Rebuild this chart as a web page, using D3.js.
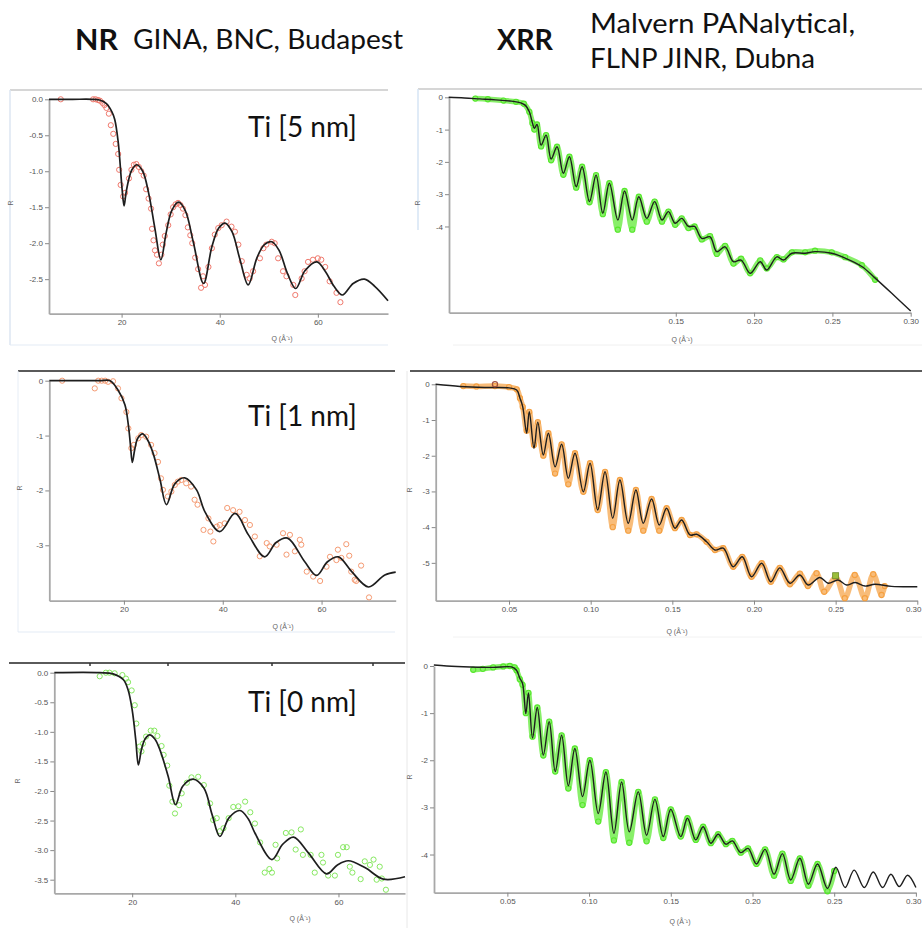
<!DOCTYPE html>
<html><head><meta charset="utf-8">
<script src="https://cdn.jsdelivr.net/npm/d3@7"></script>
<style>body{margin:0;background:#fff}svg{display:block}</style>
</head><body>
<svg id="c" width="922" height="928"></svg>
<script>
// ---------------- DATA ----------------
// NR, Ti 5 nm
const nr5Fit = [[5.2,0],[10,0],[14,0],[15.5,-0.01],[16.9,-0.06],[18,-0.17],[18.6,-0.28],[19.3,-0.59],[19.7,-0.9],[20.1,-1.25],[20.5,-1.48],[20.9,-1.3],[21.5,-1.1],[22.1,-0.98],[23.1,-0.91],[24.3,-1.0],[25.5,-1.3],[26.8,-1.8],[28.0,-2.23],[29.1,-1.85],[30.2,-1.55],[31.6,-1.43],[33,-1.55],[34.6,-1.98],[36.7,-2.56],[38.4,-2.05],[39.8,-1.79],[41.1,-1.72],[42.5,-1.84],[44.1,-2.22],[45.8,-2.58],[47.6,-2.2],[49.1,-2.02],[50.6,-1.98],[52.1,-2.1],[53.8,-2.42],[55.5,-2.63],[57.4,-2.38],[59.8,-2.26],[61.6,-2.4],[63.3,-2.6],[65.0,-2.72],[67.2,-2.56],[69.5,-2.50],[71.6,-2.6],[74.3,-2.80]];
const nr5Data = [[7.6,0],[14.2,0],[14.7,0],[15.2,-0.01],[15.6,-0.02],[16.1,-0.05],[16.5,-0.08],[16.9,-0.12],[17.4,-0.2],[17.8,-0.36],[18.3,-0.48],[18.8,-0.62],[19.3,-0.76],[19.5,-0.98],[19.8,-1.19],[20.3,-1.35],[20.7,-1.3],[21.5,-1.1],[22,-0.98],[22.5,-0.91],[23,-0.9],[23.5,-0.94],[24,-1.0],[24.5,-1.06],[25,-1.25],[25.5,-1.38],[26,-1.52],[26.2,-1.8],[26.5,-1.96],[26.8,-2.1],[27.2,-2.16],[27.6,-2.28],[28.1,-2.16],[28.4,-2.02],[28.8,-1.9],[29.5,-1.75],[30,-1.6],[30.5,-1.5],[31,-1.46],[31.5,-1.44],[32,-1.47],[32.5,-1.52],[33,-1.61],[33.5,-1.78],[34,-1.89],[34.4,-2.0],[35,-2.2],[35.6,-2.36],[36.2,-2.62],[36.6,-2.46],[37,-2.58],[37.7,-2.33],[38.4,-2.07],[39.0,-1.88],[39.7,-1.79],[40.4,-1.75],[41.4,-1.70],[42.4,-1.77],[43.1,-1.84],[43.8,-2.02],[44.5,-2.25],[45.5,-2.44],[46.1,-2.49],[46.8,-2.39],[48.2,-2.21],[48.9,-2.07],[49.5,-2.02],[50.6,-1.98],[51.2,-2.0],[51.9,-2.21],[52.9,-2.39],[53.6,-2.46],[55.0,-2.58],[55.4,-2.72],[56.7,-2.49],[57.3,-2.39],[58.0,-2.26],[59.0,-2.23],[60.0,-2.21],[60.7,-2.23],[61.5,-2.33],[62.4,-2.53],[63.8,-2.69],[64.6,-2.82]];

// NR, Ti 1 nm
const nr1Fit = [[4.9,0],[15,0],[17.2,0],[18.8,-0.17],[20.2,-0.44],[20.9,-0.81],[21.3,-1.15],[21.7,-1.49],[22.2,-1.25],[22.8,-1.05],[23.8,-0.97],[24.8,-1.08],[25.9,-1.32],[27.3,-1.8],[28.6,-2.26],[30.3,-1.88],[32.3,-1.77],[34.7,-1.99],[36.4,-2.39],[39.4,-2.75],[42.5,-2.42],[45.2,-2.81],[48.5,-3.21],[50.8,-2.95],[53.1,-2.87],[56.6,-3.30],[59.0,-3.55],[61.2,-3.3],[63.4,-3.21],[66.1,-3.48],[69.5,-3.76],[72.8,-3.54],[75,-3.49]];
const nr1Data = [[7.5,0],[14.1,-0.14],[14.8,0],[15.5,0],[16.2,0],[16.8,-0.02],[17.8,-0.01],[18.8,-0.14],[19.5,-0.32],[20.5,-0.57],[20.9,-0.87],[21.5,-1.23],[22,-1.17],[22.9,-1.05],[23.5,-0.99],[24.5,-1.02],[25.5,-1.17],[26.2,-1.32],[26.9,-1.48],[27.5,-1.78],[27.9,-1.99],[28.9,-2.11],[29.6,-2.02],[30.3,-1.9],[30.9,-1.84],[31.6,-1.81],[32.6,-1.87],[33.6,-1.93],[34.3,-2.17],[34.9,-2.26],[36.1,-2.72],[37.1,-2.51],[37.5,-2.75],[38.1,-2.93],[38.8,-2.66],[39.4,-2.63],[40.4,-2.6],[40.9,-2.32],[42.1,-2.36],[43.4,-2.39],[44.5,-2.54],[45.5,-2.63],[46.5,-2.84],[47.5,-3.2],[48.9,-2.96],[49.5,-3.02],[50.9,-2.99],[52.2,-2.78],[52.9,-3.17],[53.6,-2.81],[54.6,-3.11],[55.6,-2.9],[55.9,-2.99],[57.0,-3.48],[58.3,-3.57],[59.7,-3.65],[61.0,-3.39],[61.7,-3.21],[63.0,-3.27],[63.3,-3.08],[64.0,-3.23],[65.0,-2.98],[65.6,-3.19],[66.0,-3.48],[66.7,-3.63],[67.0,-3.65],[68.0,-3.37],[69.6,-3.95]];

// NR, Ti 0 nm
const nr0Fit = [[4.9,0],[13.7,0],[16.3,-0.02],[18.3,-0.12],[19.2,-0.29],[20,-0.63],[20.7,-1.14],[21.2,-1.56],[21.8,-1.3],[22.5,-1.12],[23.4,-1.05],[24.4,-1.12],[25.4,-1.31],[27,-1.76],[28.4,-2.23],[29.8,-1.92],[31.8,-1.80],[33.9,-1.95],[35.5,-2.4],[37.0,-2.77],[38.8,-2.45],[40.9,-2.33],[42.5,-2.47],[43.8,-2.71],[47.1,-3.16],[49.2,-2.9],[51.3,-2.78],[54.2,-3.05],[57.7,-3.40],[59.8,-3.25],[61.9,-3.18],[65.2,-3.30],[68.7,-3.49],[72.9,-3.45]];
const nr0Data = [[13.7,-0.06],[14.9,0],[15.6,0],[16.6,-0.01],[18.1,-0.04],[18.8,-0.1],[19.2,-0.16],[19.9,-0.3],[20.5,-0.55],[20.8,-0.86],[21.4,-1.25],[21.8,-1.33],[22.1,-1.2],[22.7,-1.08],[23.6,-0.98],[24.3,-0.98],[24.9,-1.07],[25.7,-1.24],[26.1,-1.39],[26.8,-1.57],[27.2,-1.91],[27.8,-2.18],[28.3,-2.38],[29.1,-2.24],[29.6,-2.04],[30.6,-1.86],[31.5,-1.77],[32.8,-1.76],[33.9,-1.9],[35.1,-2.21],[35.7,-2.49],[36.4,-2.46],[37.0,-2.68],[37.7,-2.63],[38.7,-2.46],[39.6,-2.27],[40.6,-2.26],[41.9,-2.18],[42.9,-2.36],[43.8,-2.55],[44.8,-2.87],[45.7,-3.38],[46.6,-3.32],[47.1,-3.38],[47.8,-2.91],[48.1,-3.14],[49.8,-2.71],[50.9,-2.70],[51.7,-2.99],[52.7,-2.65],[53.1,-3.08],[54.6,-3.08],[55.4,-3.38],[56.7,-3.08],[57.0,-3.21],[58.0,-3.43],[59.3,-3.43],[59.9,-3.08],[60.9,-2.95],[61.6,-2.95],[62.2,-3.28],[62.7,-3.38],[64.3,-3.49],[65.1,-3.19],[66.1,-3.25],[66.8,-3.16],[67.4,-3.50],[68.0,-3.28],[68.4,-3.48],[69.2,-3.67]];

// XRR, Ti 5 nm
const xrr5Fit = [[0.005,0],[0.015,-0.02],[0.025,-0.05],[0.035,-0.08],[0.045,-0.12],[0.051,-0.17],[0.054,-0.25],[0.0565,-0.45],[0.0585,-0.8],[0.0597,-0.96],[0.0614,-0.84],[0.064,-1.48],[0.0672,-1.17],[0.0704,-1.91],[0.0742,-1.53],[0.0782,-2.35],[0.0821,-1.84],[0.0864,-2.77],[0.0902,-2.15],[0.0949,-3.23],[0.0991,-2.41],[0.1034,-3.59],[0.1076,-2.66],[0.113,-3.8],[0.1173,-2.9],[0.1222,-3.8],[0.1264,-3.08],[0.1315,-3.75],[0.1365,-3.23],[0.1412,-3.8],[0.1453,-3.54],[0.1496,-3.9],[0.1538,-3.75],[0.1581,-4.0],[0.162,-4.0],[0.1666,-4.37],[0.1719,-4.32],[0.1762,-4.78],[0.1815,-4.63],[0.1868,-5.09],[0.1917,-5.04],[0.1975,-5.45],[0.2039,-5.09],[0.2081,-5.35],[0.2145,-4.94],[0.2188,-5.04],[0.2241,-4.83],[0.2326,-4.83],[0.2389,-4.78],[0.2496,-4.83],[0.2581,-4.98],[0.2688,-5.24],[0.2773,-5.6],[0.2879,-6.07],[0.3,-6.62]];
const xrr5Data = [[0.022,-0.04],[0.03,-0.06],[0.04,-0.1],[0.048,-0.14],[0.053,-0.2],[0.0565,-0.45],[0.0585,-0.8],[0.0597,-1.0],[0.0614,-0.84],[0.064,-1.52],[0.0672,-1.17],[0.0704,-1.95],[0.0742,-1.53],[0.0782,-2.4],[0.0821,-1.84],[0.0864,-2.8],[0.0902,-2.15],[0.0949,-3.25],[0.0991,-2.41],[0.1034,-3.62],[0.1076,-2.66],[0.113,-4.1],[0.1173,-2.9],[0.1222,-4.1],[0.1264,-3.08],[0.1315,-3.85],[0.1365,-3.23],[0.1412,-3.85],[0.1453,-3.54],[0.1496,-3.95],[0.1538,-3.75],[0.1581,-4.05],[0.162,-4.0],[0.1666,-4.4],[0.1719,-4.3],[0.1762,-4.85],[0.1815,-4.6],[0.1868,-5.15],[0.1917,-5.0],[0.1975,-5.45],[0.2039,-5.05],[0.2081,-5.3],[0.2145,-4.95],[0.2188,-5.02],[0.2241,-4.8],[0.2326,-4.8],[0.2389,-4.75],[0.2496,-4.8],[0.2581,-4.95],[0.2688,-5.2],[0.2773,-5.65]];

// XRR, Ti 1 nm
const xrr1Fit = [[0.005,0],[0.02,-0.06],[0.035,-0.09],[0.05,-0.1],[0.0547,-0.16],[0.0567,-0.39],[0.0584,-0.63],[0.0608,-1.37],[0.0624,-0.77],[0.0653,-1.79],[0.0676,-1.06],[0.071,-1.98],[0.0741,-1.37],[0.0782,-2.31],[0.0822,-1.68],[0.0863,-2.63],[0.0904,-1.93],[0.0955,-3.01],[0.0996,-2.21],[0.1043,-3.52],[0.1088,-2.45],[0.1135,-3.75],[0.1179,-2.68],[0.123,-3.89],[0.1277,-2.96],[0.1322,-3.89],[0.1373,-3.21],[0.142,-3.94],[0.1465,-3.47],[0.1516,-4.03],[0.1557,-3.8],[0.1608,-4.22],[0.1649,-4.2],[0.171,-4.41],[0.1761,-4.64],[0.1812,-4.59],[0.1873,-5.11],[0.1928,-4.83],[0.1985,-5.39],[0.2047,-5.01],[0.2103,-5.53],[0.2158,-5.14],[0.222,-5.57],[0.2281,-5.34],[0.2332,-5.62],[0.2403,-5.41],[0.2454,-5.57],[0.2515,-5.48],[0.2566,-5.62],[0.262,-5.55],[0.268,-5.65],[0.274,-5.6],[0.2842,-5.66],[0.3,-5.67]];
const xrr1Data = [[0.022,-0.05],[0.03,-0.06],[0.0414,-0.05],[0.05,-0.08],[0.0547,-0.14],[0.0567,-0.39],[0.0584,-0.63],[0.0608,-1.3],[0.0624,-0.77],[0.0653,-1.7],[0.0676,-1.06],[0.071,-2.0],[0.0741,-1.37],[0.0782,-2.5],[0.0822,-1.68],[0.0863,-2.8],[0.0904,-1.93],[0.0955,-3.01],[0.0996,-2.21],[0.1043,-3.52],[0.1088,-2.45],[0.1135,-4.0],[0.1179,-2.68],[0.123,-4.1],[0.1277,-2.96],[0.1322,-4.1],[0.1373,-3.21],[0.142,-4.1],[0.1465,-3.47],[0.1516,-4.03],[0.1557,-3.8],[0.1608,-4.22],[0.1649,-4.2],[0.171,-4.41],[0.1761,-4.64],[0.1812,-4.59],[0.1873,-5.11],[0.1928,-4.83],[0.1985,-5.39],[0.2047,-5.01],[0.2103,-5.53],[0.2158,-5.14],[0.222,-5.6],[0.2281,-5.3],[0.233,-5.65],[0.2383,-5.29],[0.243,-5.81],[0.2501,-5.41],[0.2556,-5.99],[0.2617,-5.34],[0.2679,-5.99],[0.273,-5.32],[0.2781,-5.9],[0.28,-5.65]];
const xrr1Marks = [[0.0414,0.0,"circle"],[0.25,-5.36,"square"]];

// XRR, Ti 0 nm
const xrr0Fit = [[0.005,0.02],[0.0129,0],[0.0272,-0.02],[0.0413,-0.03],[0.0525,-0.02],[0.0556,-0.09],[0.0576,-0.26],[0.0593,-0.37],[0.0613,-1.01],[0.0629,-0.57],[0.0654,-1.53],[0.0683,-0.88],[0.072,-1.89],[0.0756,-1.18],[0.0793,-2.24],[0.0832,-1.47],[0.0873,-2.54],[0.0913,-1.75],[0.096,-2.77],[0.1005,-2.0],[0.1056,-3.13],[0.1103,-2.25],[0.1152,-3.55],[0.1199,-2.46],[0.1246,-3.52],[0.1301,-2.67],[0.1352,-3.59],[0.1403,-2.83],[0.1454,-3.62],[0.15,-3.04],[0.1561,-3.62],[0.1602,-3.23],[0.1653,-3.69],[0.1698,-3.41],[0.1745,-3.76],[0.179,-3.57],[0.1837,-3.78],[0.1877,-3.71],[0.1928,-3.96],[0.1973,-3.87],[0.2024,-4.2],[0.2077,-3.89],[0.2132,-4.42],[0.2183,-3.98],[0.2234,-4.54],[0.229,-4.08],[0.2342,-4.63],[0.2398,-4.2],[0.2459,-4.72],[0.251,-4.27],[0.2567,-4.7],[0.2622,-4.33],[0.2684,-4.7],[0.2739,-4.37],[0.2796,-4.7],[0.2847,-4.42],[0.2898,-4.68],[0.2949,-4.44],[0.3,-4.7]];
const xrr0Data = [[0.0291,-0.08],[0.035,-0.06],[0.0413,-0.03],[0.0475,-0.01],[0.0515,0.0],[0.0545,-0.03],[0.0556,-0.09],[0.0576,-0.28],[0.0593,-0.4],[0.0613,-1.0],[0.0629,-0.57],[0.0654,-1.5],[0.0683,-0.88],[0.072,-1.9],[0.0756,-1.18],[0.0793,-2.24],[0.0832,-1.47],[0.0873,-2.6],[0.0913,-1.75],[0.096,-2.95],[0.1005,-2.0],[0.1056,-3.3],[0.1103,-2.25],[0.1152,-3.7],[0.1199,-2.46],[0.1246,-3.75],[0.1301,-2.67],[0.1352,-3.72],[0.1403,-2.83],[0.1454,-3.65],[0.15,-3.04],[0.1561,-3.62],[0.1602,-3.23],[0.1653,-3.69],[0.1698,-3.41],[0.1745,-3.76],[0.179,-3.57],[0.1837,-3.78],[0.1877,-3.71],[0.1928,-3.96],[0.1973,-3.87],[0.2024,-4.2],[0.2077,-3.89],[0.2132,-4.45],[0.2183,-3.98],[0.2234,-4.56],[0.229,-4.08],[0.2342,-4.66],[0.2398,-4.2],[0.2459,-4.78],[0.25,-4.35]];

// tick values
const nrTicksX = [20, 40, 60];
const nr5TicksY = [0, -0.5, -1, -1.5, -2, -2.5];
const nr1TicksY = [0, -1, -2, -3];
const nr0TicksY = [0, -0.5, -1, -1.5, -2, -2.5, -3, -3.5];
const xrr5TicksX = [0.15, 0.20, 0.25, 0.30];
const xrrTicksX = [0.05, 0.10, 0.15, 0.20, 0.25, 0.30];
const xrr5TicksY = [0, -1, -2, -3, -4];
const xrr1TicksY = [0, -1, -2, -3, -4, -5];
const xrr0TicksY = [0, -1, -2, -3, -4];

// ---------------- DRAWING ----------------
const svg = d3.select("#c");
const TXT = "Lato, 'Open Sans', sans-serif";
const W = 922;

// frames / screenshot borders
const frame = svg.append("g");
function hline(x1,x2,y,c,w){frame.append("line").attr("x1",x1).attr("x2",x2).attr("y1",y).attr("y2",y).attr("stroke",c).attr("stroke-width",w);}
function vline(x,y1,y2,c,w){frame.append("line").attr("x1",x).attr("x2",x).attr("y1",y1).attr("y2",y2).attr("stroke",c).attr("stroke-width",w);}
hline(10,388,90,"#c8c8c8",1.5); vline(10,90,345,"#dce6f2",1.5); hline(10,388,345,"#e3ebf5",1);
hline(418,922,89,"#c8c8c8",1.5); vline(418,89,230,"#d6e4f4",1.5);
hline(453,922,345,"#f0f0f0",1);
hline(18,395,371,"#5a5a5a",2.2); hline(410,922,371,"#5a5a5a",2.2);
vline(18,371,632,"#e6edf6",1); hline(18,395,632,"#e3ebf5",1);
vline(407,371,928,"#e8e8e8",1);
hline(453,922,637,"#f2f2f2",1);
hline(9,405,663,"#5a5a5a",2);
[90,168,272,373].forEach(t=>vline(t,663,666,"#333",1.5));

// headers
const hd = svg.append("g").attr("font-family",TXT).attr("fill","#111");
function head(t,x,y,size,bold,len){
  const e = hd.append("text").attr("x",x).attr("y",y).attr("font-size",size).text(t);
  if (bold) e.attr("font-weight","bold");
  if (len) e.attr("textLength",len).attr("lengthAdjust","spacingAndGlyphs");
}
head("NR",75,50,29,true,43);
head("GINA, BNC, Budapest",133,49,26,false,270);
head("XRR",497,50,29,true,56);
head("Malvern PANalytical,",590,33,26,false,265);
head("FLNP JINR, Dubna",590,68,26,false,225);

const fmt = n => (d => d.toFixed(n));

function panel(c){
  const x = d3.scaleLinear().domain(c.xd).range(c.xr);
  const y = d3.scaleLinear().domain(c.yd).range(c.yr);
  const g = svg.append("g");
  const ax = g.append("g").attr("transform",`translate(0,${c.yr[0]})`)
    .call(d3.axisBottom(x).tickValues(c.xt).tickFormat(fmt(c.xf)).tickSize(4).tickSizeOuter(0).tickPadding(2));
  const ay = g.append("g").attr("transform",`translate(${c.xr[0]},0)`)
    .call(d3.axisLeft(y).tickValues(c.yt).tickFormat(fmt(c.yf)).tickSize(4).tickSizeOuter(0).tickPadding(2));
  [ax,ay].forEach(a=>{
    a.select(".domain").attr("stroke","#a8a8a8").attr("stroke-width",1.8);
    a.selectAll(".tick line").attr("stroke","#888").attr("stroke-width",1);
    a.selectAll(".tick text").attr("fill","#555").attr("font-size",8).attr("font-family","'Liberation Sans', Arial, sans-serif");
  });
  // keep the last x tick label inside the page
  ax.selectAll(".tick").each(function(d){
    if (x(d) + 9 > W) d3.select(this).select("text").attr("text-anchor","end").attr("x", W - 1 - x(d));
  });
  g.append("text").attr("transform",`translate(${c.rl[0]},${c.rl[1]}) rotate(-90)`).attr("text-anchor","middle")
    .attr("font-size",7).attr("fill","#666").attr("font-family","'Liberation Sans', Arial, sans-serif").text("R");
  g.append("text").attr("x",c.ql[0]).attr("y",c.ql[1]).attr("text-anchor","middle")
    .attr("font-size",7).attr("fill","#666").attr("font-family","'Liberation Sans', Arial, sans-serif").text("Q (Å⁻¹)");
  const line = d3.line().x(d=>x(d[0])).y(d=>y(d[1])).curve(d3.curveCatmullRom.alpha(0.5));
  if (c.band){
    g.append("path").datum(c.data).attr("d",line).attr("fill","none").attr("stroke",c.color)
      .attr("stroke-width",5.5).attr("stroke-opacity",0.7).attr("stroke-linejoin","round").attr("stroke-linecap","round");
    g.append("g").selectAll("circle").data(c.data).join("circle")
      .attr("cx",d=>x(d[0])).attr("cy",d=>y(d[1])).attr("r",2.6)
      .attr("fill","none").attr("stroke",c.color).attr("stroke-width",1.1);
  } else {
    g.append("g").selectAll("circle").data(c.data).join("circle")
      .attr("cx",d=>x(d[0])).attr("cy",d=>y(d[1])).attr("r",2.6)
      .attr("fill","none").attr("stroke",c.color).attr("stroke-width",1);
  }
  g.append("path").datum(c.fit).attr("d",line).attr("fill","none").attr("stroke","#1e1e1e")
    .attr("stroke-width",c.band?1.4:1.7).attr("stroke-linejoin","round");
  if (c.marks){
    c.marks.forEach(m=>{
      if (m[2]==="square") g.append("rect").attr("x",x(m[0])-3).attr("y",y(m[1])-3).attr("width",6).attr("height",6)
        .attr("fill","#9bbf3a").attr("stroke","#6a8a2a").attr("stroke-width",0.8);
      else g.append("circle").attr("cx",x(m[0])).attr("cy",y(m[1])).attr("r",2.6).attr("fill","none").attr("stroke","#a05040").attr("stroke-width",1.2);
    });
  }
  if (c.title){
    g.append("text").attr("x",c.title[1]).attr("y",c.title[2]).attr("font-family",TXT).attr("font-size",28)
      .attr("fill","#111").text(c.title[0]);
  }
}

panel({xd:[5.2,74.3],xr:[49,388],yd:[-2.98,0],yr:[313.7,99.3],xt:nrTicksX,yt:nr5TicksY,xf:0,yf:1,
  rl:[13,203],ql:[282,341],data:nr5Data,fit:nr5Fit,color:"#f07a6e",title:["Ti [5 nm]",248,137]});
panel({xd:[0.0052,0.30],xr:[449,910.7],yd:[-6.67,0],yr:[312.7,97.3],xt:xrr5TicksX,yt:xrr5TicksY,xf:2,yf:0,
  rl:[420,203],ql:[682,342],data:xrr5Data,fit:xrr5Fit,color:"#55e82a",band:true});
panel({xd:[4.9,75],xr:[49.3,395.7],yd:[-4.01,0],yr:[600.7,380.7],xt:nrTicksX,yt:nr1TicksY,xf:0,yf:0,
  rl:[22,488],ql:[283,629],data:nr1Data,fit:nr1Fit,color:"#f59a72",title:["Ti [1 nm]",248,426]});
panel({xd:[0.0051,0.30],xr:[435.7,917.3],yd:[-6.06,0],yr:[600.7,384.3],xt:xrrTicksX,yt:xrr1TicksY,xf:2,yf:0,
  rl:[412,490],ql:[677,634],data:xrr1Data,fit:xrr1Fit,color:"#f5a040",band:true,marks:xrr1Marks});
panel({xd:[4.9,72.9],xr:[54.3,405],yd:[-3.73,0],yr:[893.3,672.7],xt:nrTicksX,yt:nr0TicksY,xf:0,yf:1,
  rl:[20,781],ql:[300,921],data:nr0Data,fit:nr0Fit,color:"#86e860",title:["Ti [0 nm]",248,712]});
panel({xd:[0.0051,0.30],xr:[434,915.9],yd:[-4.81,0],yr:[892.7,666],xt:xrrTicksX,yt:xrr0TicksY,xf:2,yf:0,
  rl:[412,777],ql:[680,924],data:xrr0Data,fit:xrr0Fit,color:"#55e82a",band:true});
</script>
</body></html>
